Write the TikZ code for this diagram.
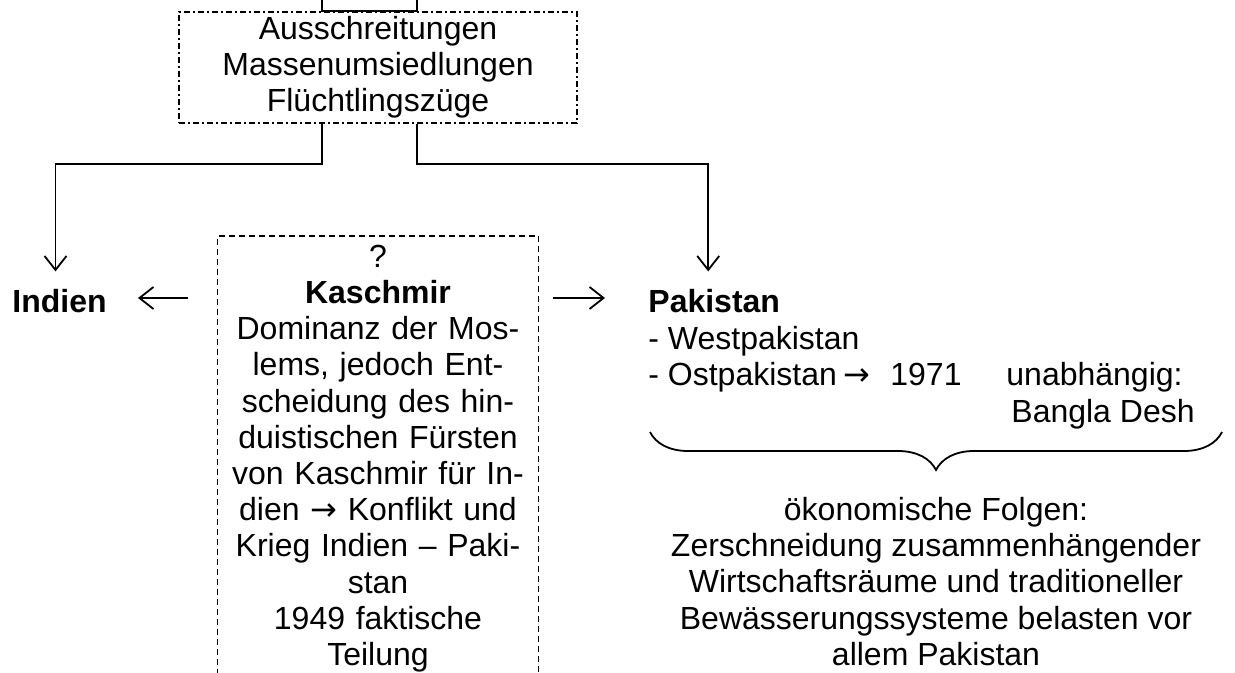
\documentclass[tikz,border=0pt]{standalone}
\usepackage{fontspec}
\setmainfont{Liberation Sans}
\newfontfamily\pfeilfont{DejaVu Sans}
\newcommand{\pfeil}{{\pfeilfont →}}
\usetikzlibrary{arrows.meta,decorations.pathreplacing}

\tikzset{
  txt/.style    = {inner sep=0pt, font=\fontsize{16pt}{18.1pt}\selectfont},
  lbl/.style    = {txt, font=\fontsize{16pt}{18.1pt}\selectfont\bfseries},
  line/.style   = {line width=0.9pt},
  arr/.style    = {line, -{Straight Barb[length=7pt,width=11pt]}},
  dashdotbox/.style = {draw, line, dash pattern=on 3pt off 1.5pt on 1pt off 1.5pt},
  dashbox/.style    = {draw, line, dash pattern=on 3pt off 2pt}
}

\begin{document}
\begin{tikzpicture}[x=0.5pt, y=-0.5pt]
  %\draw[help lines] (0,0) grid (1235,673);
  \useasboundingbox (0,0) rectangle (1235,673);
  \clip (0,0) rectangle (1235,673);

  \node[txt, dashdotbox, align=center, minimum width=199pt, minimum height=55.5pt]
    (ausschr) at (378,67.5) {Ausschreitungen\\Massenumsiedlungen\\Flüchtlingszüge};

  \node[lbl, anchor=base west] (indien) at (12,313) {Indien};
  \node[lbl, anchor=base west] (pakistan) at (648,313) {Pakistan};
  \node[txt, anchor=base west] (west) at (648,350) {- Westpakistan};
  \node[txt, anchor=base west] (ost) at (648,386) {- Ostpakistan};
  \node[txt, anchor=base] (ostpfeil) at (857,386) {\pfeil};
  \node[txt, anchor=base west] (jahr) at (890,386) {1971};
  \node[txt, anchor=base west] (unabh) at (1006,386) {unabhängig:};
  \node[txt, anchor=base west] (bangla) at (1011,422) {Bangla Desh};

  \node[txt, dashbox, align=center, text width=150pt, inner xsep=5.25pt, inner ysep=4.5pt, anchor=north]
    (kaschmir) at (378,235) {?\\\textbf{Kaschmir}\\Dominanz der Mos-\\lems, jedoch Ent-\\scheidung des hin-\\duistischen Fürsten\\von Kaschmir für In-\\dien \pfeil{} Konflikt und\\Krieg Indien -- Paki-\\stan\\1949 faktische\\Teilung};

  \node[txt, align=center, anchor=north] (folgen) at (936,497)
    {ökonomische Folgen:\\Zerschneidung zusammenhängender\\Wirtschaftsräume und traditioneller\\Bewässerungssysteme belasten vor\\allem Pakistan};

  % cut-off lines at the top
  \draw[line] ([xshift=-28pt]ausschr.north) ++(0,-14) -- ++(0,14)
    -- ([xshift=19.5pt]ausschr.north) -- ++(0,-14);

  \draw[arr, shorten >=9pt] ([xshift=-28pt]ausschr.south) -- ++(0,40) -| ([xshift=-2pt]indien.north);
  \draw[arr, shorten >=9pt] ([xshift=19.5pt]ausschr.south) -- ++(0,40) -| ([xshift=-3pt]pakistan.north);

  \coordinate (row) at (0,298);
  \draw[arr, shorten <=14.5pt, shorten >=15.5pt] (kaschmir.west |- row) -- (indien.east |- row);
  \draw[arr, shorten <=7pt, shorten >=21.5pt] (kaschmir.east |- row) -- (pakistan.west |- row);

  \coordinate (bl) at (650,432);
  \coordinate (br) at (1222,432);
  \draw[line, decorate, decoration={brace, mirror, amplitude=19pt}] (bl) -- (br);
\end{tikzpicture}
\end{document}
